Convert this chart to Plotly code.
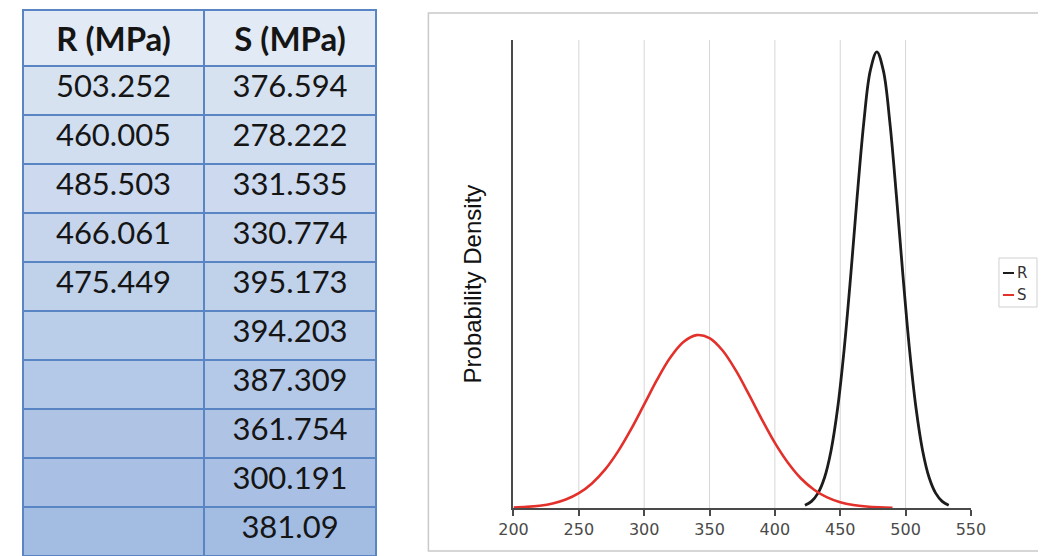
import plotly.graph_objects as go

W, H = 1046, 556

# ---- table data ----
table_headers = ["R (MPa)", "S (MPa)"]
r_values = ["503.252", "460.005", "485.503", "466.061", "475.449"]
s_values = ["376.594", "278.222", "331.535", "330.774", "395.173",
            "394.203", "387.309", "361.754", "300.191", "381.09"]

# ---- density curves (relative density units) ----
r_curve_x = [423, 428, 433, 438, 443, 448, 453, 458, 463, 468, 473, 478,
             483, 488, 493, 498, 503, 508, 513, 518, 523, 528, 533]
r_curve_y = [0.00014, 0.000339, 0.000758, 0.001552, 0.002928, 0.00507, 0.00807,
             0.0118, 0.01587, 0.01959, 0.02224, 0.0232, 0.02224, 0.01959,
             0.01587, 0.0118, 0.00807, 0.00507, 0.002928, 0.001552, 0.000758,
             0.000339, 0.00014]

s_curve_x = [200, 210, 220, 230, 240, 250, 260, 270, 280, 290, 300, 310, 320,
             330, 340, 350, 360, 370, 380, 390, 400, 410, 420, 430, 440, 450,
             460, 470, 480, 490]
s_curve_y = [0.0000252, 0.0000559, 0.000117, 0.000231, 0.000429, 0.000754,
             0.00125, 0.00195, 0.00288, 0.00401, 0.00527, 0.00654, 0.00765,
             0.00844, 0.00879, 0.00864, 0.00801, 0.00701, 0.00579, 0.00451,
             0.00331, 0.0023, 0.0015, 0.00093, 0.000541, 0.000298, 0.000154,
             0.0000756, 0.0000349, 0.0000152]

x_ticks = [200, 250, 300, 350, 400, 450, 500, 550]
grid_x = [250, 300, 350, 400, 450, 500]
series_names = ["R", "S"]

# ---- placement helpers (target pixel -> paper fraction) ----
OFF_X, SPAN_X = 22.0, 1015.0
OFF_Y = 8.0


def px(x):
    return min(max((x - OFF_X) / SPAN_X, 0.0), 1.0)


def py(y):
    return min(max(1.0 - (y - OFF_Y) / H, 0.0), 1.0)


# ---- styles ----
n_rows = len(s_values)
top_rgb = (221, 230, 243)
bot_rgb = (163, 188, 226)


def mix(t):
    return "rgb(%d,%d,%d)" % tuple(round(a + (b - a) * t) for a, b in zip(top_rgb, bot_rgb))


header_fill = "rgb(226,234,245)"
row_fills = [mix((i + 1) / n_rows) for i in range(n_rows)]
border_col = "#5a85c5"

r_column = r_values + [""] * (n_rows - len(r_values))

fig = go.Figure()

fig.add_trace(go.Table(
    domain=dict(x=[px(10), px(375)], y=[0, py(10)]),
    columnwidth=[181, 172],
    header=dict(
        values=["<b>%s</b>" % h for h in table_headers],
        height=52,
        fill_color=header_fill,
        line=dict(color=border_col, width=1.2),
        font=dict(family="Lato", size=33, color="#151515"),
        align="center",
    ),
    cells=dict(
        values=[r_column, s_values],
        height=49,
        fill_color=[row_fills, row_fills],
        line=dict(color=border_col, width=1.2),
        font=dict(family="Lato", size=31, color="#151515"),
        align="center",
    ),
))

fig.add_trace(go.Scatter(
    x=r_curve_x, y=r_curve_y, mode="lines", name=series_names[0],
    line=dict(color="#1c1c1c", width=2.8, shape="spline"),
    showlegend=False, xaxis="x", yaxis="y",
))
fig.add_trace(go.Scatter(
    x=s_curve_x, y=s_curve_y, mode="lines", name=series_names[1],
    line=dict(color="#e3302b", width=2.6, shape="spline"),
    showlegend=False, xaxis="x", yaxis="y",
))

shapes = []
# chart frame
shapes.append(dict(type="rect", xref="paper", yref="paper",
                   x0=px(427), x1=px(1045), y0=py(551), y1=py(13),
                   line=dict(color="#c9c9c9", width=1.5), fillcolor="rgba(0,0,0,0)",
                   layer="below"))
# vertical gridlines
for gx in grid_x:
    shapes.append(dict(type="line", xref="x", yref="y domain", x0=gx, x1=gx, y0=0, y1=1,
                       line=dict(color="#d6d6d6", width=1), layer="below"))
# legend box and samples
shapes.append(dict(type="rect", xref="paper", yref="paper",
                   x0=px(997), x1=px(1035), y0=py(307), y1=py(258),
                   line=dict(color="#d0d0d0", width=1), fillcolor="rgba(0,0,0,0)"))
legend_cols = ["#1c1c1c", "#e3302b"]
legend_y = [273, 295]
for col, ly in zip(legend_cols, legend_y):
    shapes.append(dict(type="line", xref="paper", yref="paper",
                       x0=px(1001), x1=px(1012), y0=py(ly), y1=py(ly),
                       line=dict(color=col, width=2)))

annotations = [
    dict(text="Probability Density", textangle=-90, xref="paper", yref="paper",
         x=px(471), y=py(284), showarrow=False,
         font=dict(family="Liberation Sans", size=24, color="#111111")),
]
for name, ly in zip(series_names, legend_y):
    annotations.append(dict(text=name, xref="paper", yref="paper", x=px(1013), y=py(ly),
                            xanchor="left", yanchor="middle", showarrow=False,
                            font=dict(family="DejaVu Sans", size=15, color="#333333")))

fig.update_layout(
    width=W, height=H,
    margin=dict(l=0, r=0, t=0, b=0),
    paper_bgcolor="white", plot_bgcolor="white",
    showlegend=False,
    xaxis=dict(domain=[px(512), px(969)], range=[200, 550], tickvals=x_ticks,
               showgrid=False, zeroline=False, showline=True, linecolor="#4a4a4a",
               linewidth=2, ticks="outside", ticklen=6, tickwidth=2, tickcolor="#4a4a4a",
               tickfont=dict(family="DejaVu Sans", size=16, color="#4a4a4a")),
    yaxis=dict(domain=[py(508), py(40)], range=[0, 0.0238],
               showgrid=False, zeroline=False, showline=True, linecolor="#4a4a4a",
               linewidth=2, showticklabels=False, ticks=""),
    shapes=shapes,
    annotations=annotations,
)

fig.write_html("out.html")
